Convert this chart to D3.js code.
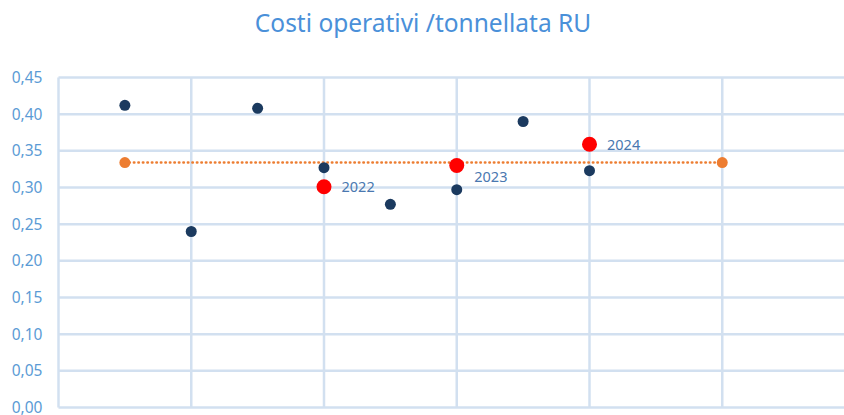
<!DOCTYPE html>
<html>
    <head>
        <meta charset="utf-8">
        <title>Costi operativi /tonnellata RU</title>
        <script src="https://d3js.org/d3.v7.min.js"></script>
        <style>
            body {
                margin: 0;
                background: white;
                font-family: "Noto Sans", sans-serif;
            }
        </style>
    </head>
    <body>
        <svg id="chart" width="844" height="415"></svg>

        <script>
            // data
            let monthlyX = [0.5, 1, 1.5, 2, 2.5, 3, 3.5, 4]
            let monthlyY = [0.412, 0.240, 0.408, 0.327, 0.277, 0.297, 0.390, 0.323]
            let yearX = [2, 3, 4]
            let yearY = [0.301, 0.330, 0.359]
            let yearLabels = ["2022", "2023", "2024"]
            let avgX = [0.5, 5]
            let avgY = [0.334, 0.334]
            let yTicks = [0, 0.05, 0.10, 0.15, 0.20, 0.25, 0.30, 0.35, 0.40, 0.45]
            let xTicks = [0, 1, 2, 3, 4, 5, 6]

            let svg = d3.select("#chart")

            let x = d3.scaleLinear().domain([0, 6]).range([58.5, 855])
            let y = d3.scaleLinear().domain([0, 0.45]).range([407.5, 77.5])

            svg.append("text")
                .attr("x", 423)
                .attr("y", 32)
                .attr("text-anchor", "middle")
                .attr("fill", "#4a90d9")
                .style("font-size", "24.5px")
                .text("Costi operativi /tonnellata RU")

            // grid
            let grid = svg.append("g")
            grid.selectAll("line.h")
                .data(yTicks)
                .enter()
                .append("line")
                .attr("class", "h")
                .attr("x1", x(0)).attr("x2", x(6))
                .attr("y1", d => y(d)).attr("y2", d => y(d))
                .attr("stroke", "#d2e0f0")
                .attr("stroke-width", 2.5)
            grid.selectAll("line.v")
                .data(xTicks)
                .enter()
                .append("line")
                .attr("class", "v")
                .attr("y1", y(0)).attr("y2", y(0.45))
                .attr("x1", d => x(d)).attr("x2", d => x(d))
                .attr("stroke", "#d2e0f0")
                .attr("stroke-width", 2.5)

            // y axis labels
            let fmt = d => d3.format(".2f")(d).replace(".", ",")
            svg.append("g")
                .attr("transform", "translate(" + x(0) + ",0)")
                .call(d3.axisLeft(y).tickValues(yTicks).tickFormat(fmt).tickSize(0).tickPadding(16))
                .call(g => g.select(".domain").remove())
                .selectAll("text")
                .attr("fill", "#5b9bd5")
                .style("font-family", "'Noto Sans', sans-serif")
                .style("font-size", "15.5px")

            // average dotted line
            svg.append("path")
                .datum(d3.zip(avgX, avgY))
                .attr("d", d3.line().x(d => x(d[0])).y(d => y(d[1])))
                .attr("fill", "none")
                .attr("stroke", "#ed7d31")
                .attr("stroke-width", 2.5)
                .attr("stroke-linecap", "round")
                .attr("stroke-dasharray", "0.5 4")

            svg.selectAll("circle.avg")
                .data(d3.zip(avgX, avgY))
                .enter()
                .append("circle")
                .attr("class", "avg")
                .attr("cx", d => x(d[0]))
                .attr("cy", d => y(d[1]))
                .attr("r", 5.5)
                .attr("fill", "#ed7d31")

            svg.selectAll("circle.month")
                .data(d3.zip(monthlyX, monthlyY))
                .enter()
                .append("circle")
                .attr("class", "month")
                .attr("cx", d => x(d[0]))
                .attr("cy", d => y(d[1]))
                .attr("r", 5.5)
                .attr("fill", "#1b3a5f")

            let years = d3.zip(yearX, yearY, yearLabels)
            svg.selectAll("circle.year")
                .data(years)
                .enter()
                .append("circle")
                .attr("class", "year")
                .attr("cx", d => x(d[0]))
                .attr("cy", d => y(d[1]))
                .attr("r", 7.5)
                .attr("fill", "#ff0000")

            // labels: 2023 sits lower than its point
            let labelDy = [5.5, 16.5, 5.5]
            svg.selectAll("text.year")
                .data(years)
                .enter()
                .append("text")
                .attr("class", "year")
                .attr("x", d => x(d[0]) + 17.5)
                .attr("y", (d, i) => y(d[1]) + labelDy[i])
                .attr("fill", "#4a78b0")
                .style("font-size", "14.5px")
                .text(d => d[2])
        </script>
    </body>
</html>
